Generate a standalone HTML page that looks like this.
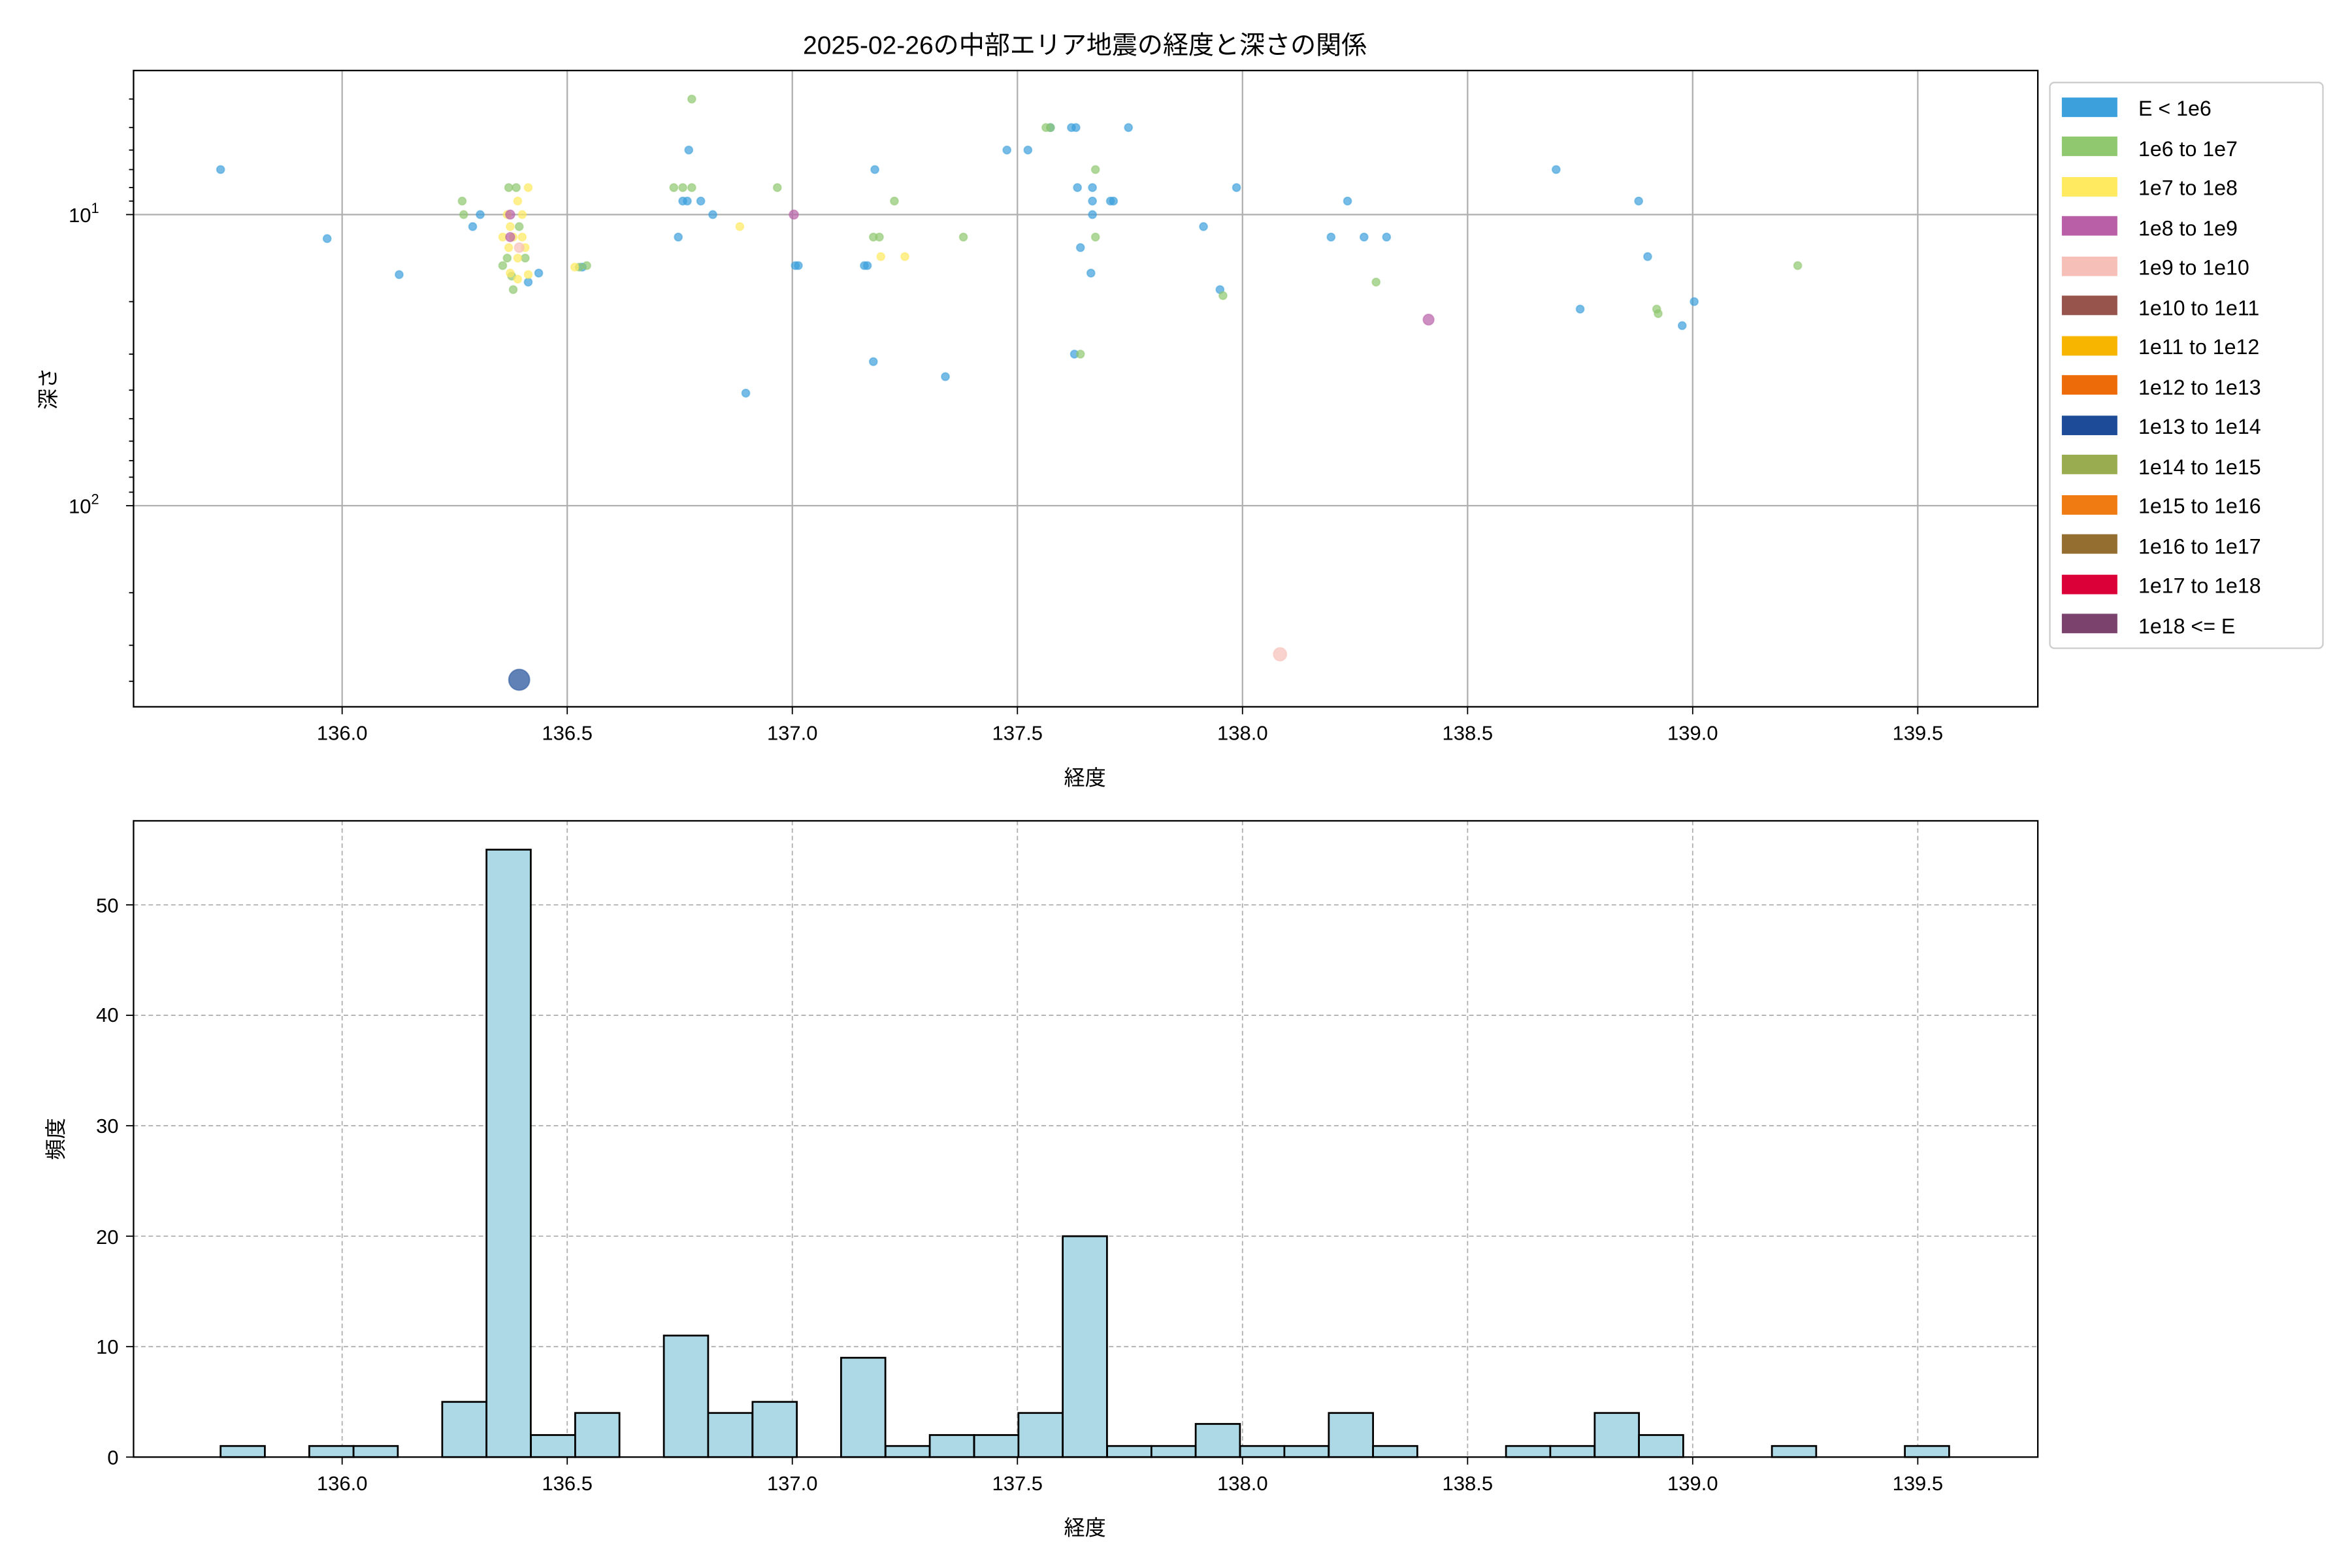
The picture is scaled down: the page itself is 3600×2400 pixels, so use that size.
<!DOCTYPE html>
<html><head><meta charset="utf-8"><style>html,body{margin:0;padding:0;background:#fff}svg{display:block}</style></head>
<body>
<svg width="3600" height="2400" viewBox="0 0 1560 1040" xmlns="http://www.w3.org/2000/svg" font-family="Liberation Sans, Noto Sans CJK JP, sans-serif">
<rect width="1560" height="1040" fill="#fff"/>
<g transform="scale(0.9953)">
<text x="723" y="36" font-size="17" text-anchor="middle">2025-02-26の中部エリア地震の経度と深さの関係</text>
<g stroke="#b0b0b0" stroke-width="1">
<line x1="228" y1="47" x2="228" y2="471"/><line x1="378" y1="47" x2="378" y2="471"/><line x1="528" y1="47" x2="528" y2="471"/><line x1="678" y1="47" x2="678" y2="471"/><line x1="828" y1="47" x2="828" y2="471"/><line x1="978" y1="47" x2="978" y2="471"/><line x1="1128" y1="47" x2="1128" y2="471"/><line x1="1278" y1="47" x2="1278" y2="471"/>
<line x1="89" y1="143" x2="1358" y2="143"/><line x1="89" y1="337" x2="1358" y2="337"/>
</g>
<g stroke-width="0.8" fill-opacity="0.7" stroke-opacity="0.5">
<g fill="#3ca0dc" stroke="#3ca0dc">
<circle cx="147" cy="113" r="2.6"/><circle cx="218" cy="159" r="2.6"/><circle cx="266" cy="183" r="2.6"/><circle cx="315" cy="151" r="2.6"/><circle cx="320" cy="143" r="2.6"/><circle cx="352" cy="188" r="2.6"/><circle cx="359" cy="182" r="2.6"/><circle cx="388" cy="178" r="2.6"/><circle cx="452" cy="158" r="2.6"/><circle cx="455" cy="134" r="2.6"/><circle cx="458" cy="134" r="2.6"/><circle cx="459" cy="100" r="2.6"/><circle cx="467" cy="134" r="2.6"/><circle cx="475" cy="143" r="2.6"/><circle cx="497" cy="262" r="2.6"/><circle cx="530" cy="177" r="2.6"/><circle cx="532" cy="177" r="2.6"/><circle cx="576" cy="177" r="2.6"/><circle cx="578" cy="177" r="2.6"/><circle cx="582" cy="241" r="2.6"/><circle cx="583" cy="113" r="2.6"/><circle cx="630" cy="251" r="2.6"/><circle cx="671" cy="100" r="2.6"/><circle cx="685" cy="100" r="2.6"/><circle cx="700" cy="85" r="2.6"/><circle cx="714" cy="85" r="2.6"/><circle cx="717" cy="85" r="2.6"/><circle cx="716" cy="236" r="2.6"/><circle cx="718" cy="125" r="2.6"/><circle cx="720" cy="165" r="2.6"/><circle cx="727" cy="182" r="2.6"/><circle cx="728" cy="125" r="2.6"/><circle cx="728" cy="134" r="2.6"/><circle cx="728" cy="143" r="2.6"/><circle cx="740" cy="134" r="2.6"/><circle cx="742" cy="134" r="2.6"/><circle cx="752" cy="85" r="2.6"/><circle cx="802" cy="151" r="2.6"/><circle cx="813" cy="193" r="2.6"/><circle cx="824" cy="125" r="2.6"/><circle cx="887" cy="158" r="2.6"/><circle cx="898" cy="134" r="2.6"/><circle cx="909" cy="158" r="2.6"/><circle cx="924" cy="158" r="2.6"/><circle cx="1037" cy="113" r="2.6"/><circle cx="1053" cy="206" r="2.6"/><circle cx="1092" cy="134" r="2.6"/><circle cx="1098" cy="171" r="2.6"/><circle cx="1121" cy="217" r="2.6"/><circle cx="1129" cy="201" r="2.6"/>
</g>
<g fill="#8fc86f" stroke="#8fc86f">
<circle cx="308" cy="134" r="2.6"/><circle cx="309" cy="143" r="2.6"/><circle cx="335" cy="177" r="2.6"/><circle cx="338" cy="172" r="2.6"/><circle cx="339" cy="125" r="2.6"/><circle cx="344" cy="125" r="2.6"/><circle cx="346" cy="151" r="2.6"/><circle cx="350" cy="172" r="2.6"/><circle cx="342" cy="193" r="2.6"/><circle cx="391" cy="177" r="2.6"/><circle cx="449" cy="125" r="2.6"/><circle cx="455" cy="125" r="2.6"/><circle cx="461" cy="66" r="2.6"/><circle cx="461" cy="125" r="2.6"/><circle cx="518" cy="125" r="2.6"/><circle cx="582" cy="158" r="2.6"/><circle cx="586" cy="158" r="2.6"/><circle cx="596" cy="134" r="2.6"/><circle cx="642" cy="158" r="2.6"/><circle cx="697" cy="85" r="2.6"/><circle cx="700" cy="85" r="2.6"/><circle cx="720" cy="236" r="2.6"/><circle cx="730" cy="113" r="2.6"/><circle cx="730" cy="158" r="2.6"/><circle cx="815" cy="197" r="2.6"/><circle cx="917" cy="188" r="2.6"/><circle cx="1104" cy="206" r="2.6"/><circle cx="1105" cy="209" r="2.6"/><circle cx="1198" cy="177" r="2.6"/><circle cx="386" cy="178" r="2.6"/><circle cx="341" cy="184" r="2.6"/>
</g>
<g fill="#ffea60" stroke="#ffea60">
<circle cx="352" cy="125" r="2.6"/><circle cx="345" cy="134" r="2.6"/><circle cx="338" cy="143" r="2.6"/><circle cx="335" cy="158" r="2.6"/><circle cx="342" cy="158" r="2.6"/><circle cx="348" cy="158" r="2.6"/><circle cx="350" cy="165" r="2.6"/><circle cx="345" cy="172" r="2.6"/><circle cx="340" cy="182" r="2.6"/><circle cx="345" cy="186" r="2.6"/><circle cx="352" cy="183" r="2.6"/><circle cx="383" cy="178" r="2.6"/><circle cx="493" cy="151" r="2.6"/><circle cx="587" cy="171" r="2.6"/><circle cx="603" cy="171" r="2.6"/><circle cx="340" cy="151" r="2.6"/><circle cx="348" cy="143" r="2.6"/><circle cx="339" cy="165" r="2.6"/>
</g>
<g fill="#b85fa7" stroke="#b85fa7"><circle cx="529" cy="143" r="3"/><circle cx="340" cy="143" r="3"/><circle cx="340" cy="158" r="3"/><circle cx="952" cy="213" r="3.6"/></g>
<g fill="#f6bfb8" stroke="#f6bfb8"><circle cx="346" cy="165" r="3.2"/><circle cx="853" cy="436" r="4.4"/></g>
<g fill="#1d4b97" stroke="#1d4b97"><circle cx="346" cy="453" r="7"/></g>
</g>
<rect x="89" y="47" width="1269" height="424" fill="none" stroke="#000" stroke-width="1"/>
<g stroke="#000" stroke-width="0.8">
<line x1="228" y1="471" x2="228" y2="476"/><line x1="378" y1="471" x2="378" y2="476"/><line x1="528" y1="471" x2="528" y2="476"/><line x1="678" y1="471" x2="678" y2="476"/><line x1="828" y1="471" x2="828" y2="476"/><line x1="978" y1="471" x2="978" y2="476"/><line x1="1128" y1="471" x2="1128" y2="476"/><line x1="1278" y1="471" x2="1278" y2="476"/>
<line x1="84" y1="143" x2="89" y2="143"/><line x1="84" y1="337" x2="89" y2="337"/>
<line x1="86" y1="66" x2="89" y2="66"/><line x1="86" y1="85" x2="89" y2="85"/><line x1="86" y1="100" x2="89" y2="100"/><line x1="86" y1="113" x2="89" y2="113"/><line x1="86" y1="125" x2="89" y2="125"/><line x1="86" y1="134" x2="89" y2="134"/>
<line x1="86" y1="201" x2="89" y2="201"/><line x1="86" y1="236" x2="89" y2="236"/><line x1="86" y1="260" x2="89" y2="260"/><line x1="86" y1="279" x2="89" y2="279"/><line x1="86" y1="294" x2="89" y2="294"/><line x1="86" y1="307" x2="89" y2="307"/><line x1="86" y1="318" x2="89" y2="318"/><line x1="86" y1="328" x2="89" y2="328"/>
<line x1="86" y1="395" x2="89" y2="395"/><line x1="86" y1="430" x2="89" y2="430"/><line x1="86" y1="454" x2="89" y2="454"/>
</g>
<g font-size="13.5" text-anchor="middle">
<text x="228" y="493">136.0</text><text x="378" y="493">136.5</text><text x="528" y="493">137.0</text><text x="678" y="493">137.5</text><text x="828" y="493">138.0</text><text x="978" y="493">138.5</text><text x="1128" y="493">139.0</text><text x="1278" y="493">139.5</text>
</g>
<text x="66" y="148" font-size="13.5" text-anchor="end">10<tspan font-size="9.5" dy="-6">1</tspan></text>
<text x="66" y="342" font-size="13.5" text-anchor="end">10<tspan font-size="9.5" dy="-6">2</tspan></text>
<text x="723" y="523" font-size="14" text-anchor="middle">経度</text>
<text transform="translate(37,259) rotate(-90)" font-size="14" text-anchor="middle">深さ</text>
<rect x="1366" y="55" width="182" height="377" fill="#fff" stroke="#ccc" rx="3"/>
<g font-size="14">
<rect x="1374" y="65" width="37" height="13" fill="#3ca0dc"/><text x="1425" y="77">E &lt; 1e6</text>
<rect x="1374" y="91" width="37" height="13" fill="#8fc86f"/><text x="1425" y="104">1e6 to 1e7</text>
<rect x="1374" y="118" width="37" height="13" fill="#ffea60"/><text x="1425" y="130">1e7 to 1e8</text>
<rect x="1374" y="144" width="37" height="13" fill="#b85fa7"/><text x="1425" y="157">1e8 to 1e9</text>
<rect x="1374" y="171" width="37" height="13" fill="#f6bfb8"/><text x="1425" y="183">1e9 to 1e10</text>
<rect x="1374" y="197" width="37" height="13" fill="#96544d"/><text x="1425" y="210">1e10 to 1e11</text>
<rect x="1374" y="224" width="37" height="13" fill="#f8b500"/><text x="1425" y="236">1e11 to 1e12</text>
<rect x="1374" y="250" width="37" height="13" fill="#ee6b09"/><text x="1425" y="263">1e12 to 1e13</text>
<rect x="1374" y="277" width="37" height="13" fill="#1d4b97"/><text x="1425" y="289">1e13 to 1e14</text>
<rect x="1374" y="303" width="37" height="13" fill="#9aac50"/><text x="1425" y="316">1e14 to 1e15</text>
<rect x="1374" y="330" width="37" height="13" fill="#ef7b12"/><text x="1425" y="342">1e15 to 1e16</text>
<rect x="1374" y="356" width="37" height="13" fill="#936e30"/><text x="1425" y="369">1e16 to 1e17</text>
<rect x="1374" y="383" width="37" height="13" fill="#dc0038"/><text x="1425" y="395">1e17 to 1e18</text>
<rect x="1374" y="409" width="37" height="13" fill="#7a426d"/><text x="1425" y="422">1e18 &lt;= E</text>
</g>
<g stroke="#b0b0b0" stroke-width="0.8" stroke-dasharray="3,2">
<line x1="228" y1="547" x2="228" y2="971"/><line x1="378" y1="547" x2="378" y2="971"/><line x1="528" y1="547" x2="528" y2="971"/><line x1="678" y1="547" x2="678" y2="971"/><line x1="828" y1="547" x2="828" y2="971"/><line x1="978" y1="547" x2="978" y2="971"/><line x1="1128" y1="547" x2="1128" y2="971"/><line x1="1278" y1="547" x2="1278" y2="971"/>
<line x1="89" y1="897.4" x2="1358" y2="897.4"/><line x1="89" y1="823.8" x2="1358" y2="823.8"/><line x1="89" y1="750.2" x2="1358" y2="750.2"/><line x1="89" y1="676.6" x2="1358" y2="676.6"/><line x1="89" y1="603" x2="1358" y2="603"/>
</g>
<g fill="#add8e6" stroke="#000" stroke-width="1.2">
<rect x="147" y="963.6" width="29.5" height="7.4"/>
<rect x="206.1" y="963.6" width="29.5" height="7.4"/>
<rect x="235.6" y="963.6" width="29.5" height="7.4"/>
<rect x="294.7" y="934.2" width="29.5" height="36.8"/>
<rect x="324.2" y="566.2" width="29.5" height="404.8"/>
<rect x="353.8" y="956.3" width="29.5" height="14.7"/>
<rect x="383.3" y="941.6" width="29.5" height="29.4"/>
<rect x="442.4" y="890" width="29.5" height="81"/>
<rect x="471.9" y="941.6" width="29.5" height="29.4"/>
<rect x="501.5" y="934.2" width="29.5" height="36.8"/>
<rect x="560.5" y="904.8" width="29.5" height="66.2"/>
<rect x="590.1" y="963.6" width="29.5" height="7.4"/>
<rect x="619.6" y="956.3" width="29.5" height="14.7"/>
<rect x="649.2" y="956.3" width="29.5" height="14.7"/>
<rect x="678.7" y="941.6" width="29.5" height="29.4"/>
<rect x="708.2" y="823.8" width="29.5" height="147.2"/>
<rect x="737.8" y="963.6" width="29.5" height="7.4"/>
<rect x="767.3" y="963.6" width="29.5" height="7.4"/>
<rect x="796.8" y="948.9" width="29.5" height="22.1"/>
<rect x="826.4" y="963.6" width="29.5" height="7.4"/>
<rect x="855.9" y="963.6" width="29.5" height="7.4"/>
<rect x="885.5" y="941.6" width="29.5" height="29.4"/>
<rect x="915" y="963.6" width="29.5" height="7.4"/>
<rect x="1003.6" y="963.6" width="29.5" height="7.4"/>
<rect x="1033.1" y="963.6" width="29.5" height="7.4"/>
<rect x="1062.7" y="941.6" width="29.5" height="29.4"/>
<rect x="1092.2" y="956.3" width="29.5" height="14.7"/>
<rect x="1180.8" y="963.6" width="29.5" height="7.4"/>
<rect x="1269.4" y="963.6" width="29.5" height="7.4"/>
</g>
<rect x="89" y="547" width="1269" height="424" fill="none" stroke="#000" stroke-width="1"/>
<g stroke="#000" stroke-width="0.8">
<line x1="228" y1="971" x2="228" y2="976"/><line x1="378" y1="971" x2="378" y2="976"/><line x1="528" y1="971" x2="528" y2="976"/><line x1="678" y1="971" x2="678" y2="976"/><line x1="828" y1="971" x2="828" y2="976"/><line x1="978" y1="971" x2="978" y2="976"/><line x1="1128" y1="971" x2="1128" y2="976"/><line x1="1278" y1="971" x2="1278" y2="976"/>
<line x1="84" y1="971" x2="89" y2="971"/><line x1="84" y1="897.4" x2="89" y2="897.4"/><line x1="84" y1="823.8" x2="89" y2="823.8"/><line x1="84" y1="750.2" x2="89" y2="750.2"/><line x1="84" y1="676.6" x2="89" y2="676.6"/><line x1="84" y1="603" x2="89" y2="603"/>
</g>
<g font-size="13.5" text-anchor="middle">
<text x="228" y="993">136.0</text><text x="378" y="993">136.5</text><text x="528" y="993">137.0</text><text x="678" y="993">137.5</text><text x="828" y="993">138.0</text><text x="978" y="993">138.5</text><text x="1128" y="993">139.0</text><text x="1278" y="993">139.5</text>
</g>
<g font-size="13.5" text-anchor="end">
<text x="79" y="976">0</text><text x="79" y="902">10</text><text x="79" y="829">20</text><text x="79" y="755">30</text><text x="79" y="681">40</text><text x="79" y="608">50</text>
</g>
<text x="723" y="1023" font-size="14" text-anchor="middle">経度</text>
<text transform="translate(42,759) rotate(-90)" font-size="14" text-anchor="middle">頻度</text>
</g>
</svg>
</body></html>
